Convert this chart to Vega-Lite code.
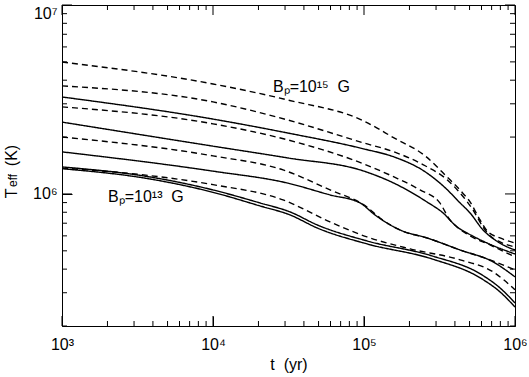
{
  "$schema": "https://vega.github.io/schema/vega-lite/v6.json",
  "width": 453,
  "height": 321,
  "autosize": "none",
  "padding": {"left": 62, "top": 5, "right": 14, "bottom": 51},
  "background": "white",
  "config": {
    "view": {"stroke": "black", "strokeWidth": 1},
    "font": "Liberation Sans",
    "axis": {
      "zindex": 1,
      "labelFont": "Liberation Sans",
      "labelFontSize": 16,
      "labelColor": "black",
      "titleFont": "Liberation Sans",
      "titleFontSize": 16,
      "titleFontWeight": "normal",
      "titleColor": "black",
      "tickColor": "#000000",
      "tickWidth": 1,
      "domain": false,
      "grid": false,
      "labelOverlap": false,
      "labelBound": false,
      "labelFlush": false
    }
  },
  "datasets": {
    "xmajor": [{"v": 1000}, {"v": 10000}, {"v": 100000}, {"v": 1000000}],
    "xminor": [{"v": 2000}, {"v": 3000}, {"v": 4000}, {"v": 5000}, {"v": 6000}, {"v": 7000}, {"v": 8000}, {"v": 9000},
               {"v": 20000}, {"v": 30000}, {"v": 40000}, {"v": 50000}, {"v": 60000}, {"v": 70000}, {"v": 80000}, {"v": 90000},
               {"v": 200000}, {"v": 300000}, {"v": 400000}, {"v": 500000}, {"v": 600000}, {"v": 700000}, {"v": 800000}, {"v": 900000}],
    "ymajor": [{"v": 1000000}, {"v": 10000000}],
    "yminor": [{"v": 200000}, {"v": 300000}, {"v": 400000}, {"v": 500000}, {"v": 600000}, {"v": 700000}, {"v": 800000}, {"v": 900000},
               {"v": 2000000}, {"v": 3000000}, {"v": 4000000}, {"v": 5000000}, {"v": 6000000}, {"v": 7000000}, {"v": 8000000}, {"v": 9000000}],
    "curves": [
      {"curve": "D1", "style": "dashed", "age": 1000, "teff": 4990000},
      {"curve": "D1", "style": "dashed", "age": 10000, "teff": 3820000},
      {"curve": "D1", "style": "dashed", "age": 31400, "teff": 3140000},
      {"curve": "D1", "style": "dashed", "age": 100000, "teff": 2430000},
      {"curve": "D1", "style": "dashed", "age": 158000, "teff": 1980000},
      {"curve": "D1", "style": "dashed", "age": 254000, "teff": 1590000},
      {"curve": "D1", "style": "dashed", "age": 355000, "teff": 1230000},
      {"curve": "D1", "style": "dashed", "age": 446000, "teff": 1020000},
      {"curve": "D1", "style": "dashed", "age": 504000, "teff": 907000},
      {"curve": "D1", "style": "dashed", "age": 587000, "teff": 728000},
      {"curve": "D1", "style": "dashed", "age": 663000, "teff": 630000},
      {"curve": "D1", "style": "dashed", "age": 796000, "teff": 585000},
      {"curve": "D1", "style": "dashed", "age": 1000000, "teff": 550000},

      {"curve": "D2", "style": "dashed", "age": 1000, "teff": 3730000},
      {"curve": "D2", "style": "dashed", "age": 10000, "teff": 3070000},
      {"curve": "D2", "style": "dashed", "age": 31400, "teff": 2460000},
      {"curve": "D2", "style": "dashed", "age": 100000, "teff": 1860000},
      {"curve": "D2", "style": "dashed", "age": 158000, "teff": 1670000},
      {"curve": "D2", "style": "dashed", "age": 254000, "teff": 1410000},
      {"curve": "D2", "style": "dashed", "age": 355000, "teff": 1190000},
      {"curve": "D2", "style": "dashed", "age": 433000, "teff": 1010000},
      {"curve": "D2", "style": "dashed", "age": 527000, "teff": 823000},
      {"curve": "D2", "style": "dashed", "age": 614000, "teff": 669000},
      {"curve": "D2", "style": "dashed", "age": 683000, "teff": 600000},
      {"curve": "D2", "style": "dashed", "age": 796000, "teff": 557000},
      {"curve": "D2", "style": "dashed", "age": 1000000, "teff": 524000},

      {"curve": "S1", "style": "solid", "age": 1000, "teff": 3260000},
      {"curve": "S1", "style": "solid", "age": 10000, "teff": 2490000},
      {"curve": "S1", "style": "solid", "age": 31400, "teff": 2100000},
      {"curve": "S1", "style": "solid", "age": 100000, "teff": 1730000},
      {"curve": "S1", "style": "solid", "age": 158000, "teff": 1570000},
      {"curve": "S1", "style": "solid", "age": 254000, "teff": 1310000},
      {"curve": "S1", "style": "solid", "age": 344000, "teff": 1080000},
      {"curve": "S1", "style": "solid", "age": 433000, "teff": 896000},
      {"curve": "S1", "style": "solid", "age": 504000, "teff": 793000},
      {"curve": "S1", "style": "solid", "age": 614000, "teff": 645000},
      {"curve": "S1", "style": "solid", "age": 737000, "teff": 571000},
      {"curve": "S1", "style": "solid", "age": 859000, "teff": 531000},
      {"curve": "S1", "style": "solid", "age": 1000000, "teff": 505000},

      {"curve": "D3", "style": "dashed", "age": 1000, "teff": 2890000},
      {"curve": "D3", "style": "dashed", "age": 10000, "teff": 2350000},
      {"curve": "D3", "style": "dashed", "age": 31400, "teff": 1930000},
      {"curve": "D3", "style": "dashed", "age": 100000, "teff": 1440000},
      {"curve": "D3", "style": "dashed", "age": 158000, "teff": 1230000},
      {"curve": "D3", "style": "dashed", "age": 235000, "teff": 1050000},
      {"curve": "D3", "style": "dashed", "age": 318000, "teff": 896000},
      {"curve": "D3", "style": "dashed", "age": 371000, "teff": 728000},
      {"curve": "D3", "style": "dashed", "age": 413000, "teff": 669000},
      {"curve": "D3", "style": "dashed", "age": 504000, "teff": 600000},
      {"curve": "D3", "style": "dashed", "age": 683000, "teff": 537000},
      {"curve": "D3", "style": "dashed", "age": 1000000, "teff": 464000},

      {"curve": "S2", "style": "solid", "age": 1000, "teff": 2400000},
      {"curve": "S2", "style": "solid", "age": 10000, "teff": 1790000},
      {"curve": "S2", "style": "solid", "age": 31400, "teff": 1550000},
      {"curve": "S2", "style": "solid", "age": 100000, "teff": 1320000},
      {"curve": "S2", "style": "solid", "age": 158000, "teff": 1140000},
      {"curve": "S2", "style": "solid", "age": 261000, "teff": 907000},
      {"curve": "S2", "style": "solid", "age": 334000, "teff": 793000},
      {"curve": "S2", "style": "solid", "age": 413000, "teff": 669000},
      {"curve": "S2", "style": "solid", "age": 481000, "teff": 622000},
      {"curve": "S2", "style": "solid", "age": 653000, "teff": 550000},
      {"curve": "S2", "style": "solid", "age": 1000000, "teff": 481000},

      {"curve": "D4", "style": "dashed", "age": 1000, "teff": 2000000},
      {"curve": "D4", "style": "dashed", "age": 10000, "teff": 1590000},
      {"curve": "D4", "style": "dashed", "age": 29100, "teff": 1340000},
      {"curve": "D4", "style": "dashed", "age": 59600, "teff": 1050000},
      {"curve": "D4", "style": "dashed", "age": 104700, "teff": 853000},
      {"curve": "D4", "style": "dashed", "age": 127600, "teff": 746000},
      {"curve": "D4", "style": "dashed", "age": 173000, "teff": 645000},
      {"curve": "D4", "style": "dashed", "age": 274000, "teff": 578000},
      {"curve": "D4", "style": "dashed", "age": 433000, "teff": 505000},
      {"curve": "D4", "style": "dashed", "age": 683000, "teff": 448000},
      {"curve": "D4", "style": "dashed", "age": 1000000, "teff": 396000},

      {"curve": "S3", "style": "solid", "age": 1000, "teff": 1670000},
      {"curve": "S3", "style": "solid", "age": 10000, "teff": 1320000},
      {"curve": "S3", "style": "solid", "age": 31400, "teff": 1140000},
      {"curve": "S3", "style": "solid", "age": 59600, "teff": 988000},
      {"curve": "S3", "style": "solid", "age": 94200, "teff": 896000},
      {"curve": "S3", "style": "solid", "age": 118300, "teff": 774000},
      {"curve": "S3", "style": "solid", "age": 148700, "teff": 686000},
      {"curve": "S3", "style": "solid", "age": 173000, "teff": 645000},
      {"curve": "S3", "style": "solid", "age": 261000, "teff": 585000},
      {"curve": "S3", "style": "solid", "age": 433000, "teff": 505000},
      {"curve": "S3", "style": "solid", "age": 715000, "teff": 437000},
      {"curve": "S3", "style": "solid", "age": 1000000, "teff": 364000},

      {"curve": "D5", "style": "dashed", "age": 1000, "teff": 1370000},
      {"curve": "D5", "style": "dashed", "age": 3828, "teff": 1250000},
      {"curve": "D5", "style": "dashed", "age": 10000, "teff": 1120000},
      {"curve": "D5", "style": "dashed", "age": 29100, "teff": 930000},
      {"curve": "D5", "style": "dashed", "age": 59600, "teff": 711000},
      {"curve": "D5", "style": "dashed", "age": 104700, "teff": 592000},
      {"curve": "D5", "style": "dashed", "age": 202000, "teff": 512000},
      {"curve": "D5", "style": "dashed", "age": 433000, "teff": 448000},
      {"curve": "D5", "style": "dashed", "age": 715000, "teff": 387000},
      {"curve": "D5", "style": "dashed", "age": 1000000, "teff": 311000},

      {"curve": "S4a", "style": "solid", "age": 1000, "teff": 1390000},
      {"curve": "S4a", "style": "solid", "age": 3828, "teff": 1230000},
      {"curve": "S4a", "style": "solid", "age": 10000, "teff": 1050000},
      {"curve": "S4a", "style": "solid", "age": 20480, "teff": 896000},
      {"curve": "S4a", "style": "solid", "age": 32400, "teff": 803000},
      {"curve": "S4a", "style": "solid", "age": 48900, "teff": 686000},
      {"curve": "S4a", "style": "solid", "age": 104700, "teff": 564000},
      {"curve": "S4a", "style": "solid", "age": 282000, "teff": 470000},
      {"curve": "S4a", "style": "solid", "age": 604000, "teff": 373000},
      {"curve": "S4a", "style": "solid", "age": 796000, "teff": 318000},
      {"curve": "S4a", "style": "solid", "age": 1000000, "teff": 265000},

      {"curve": "S4b", "style": "solid", "age": 1000, "teff": 1360000},
      {"curve": "S4b", "style": "solid", "age": 3828, "teff": 1200000},
      {"curve": "S4b", "style": "solid", "age": 10000, "teff": 1020000},
      {"curve": "S4b", "style": "solid", "age": 20480, "teff": 864000},
      {"curve": "S4b", "style": "solid", "age": 32400, "teff": 774000},
      {"curve": "S4b", "style": "solid", "age": 48900, "teff": 661000},
      {"curve": "S4b", "style": "solid", "age": 104700, "teff": 544000},
      {"curve": "S4b", "style": "solid", "age": 282000, "teff": 453000},
      {"curve": "S4b", "style": "solid", "age": 604000, "teff": 355000},
      {"curve": "S4b", "style": "solid", "age": 796000, "teff": 303000},
      {"curve": "S4b", "style": "solid", "age": 1000000, "teff": 252000}
    ]
  },
  "resolve": {"axis": {"x": "independent", "y": "independent"}},
  "layer": [
    {
      "data": {"name": "curves"},
      "mark": {"type": "line", "color": "black", "strokeWidth": 1.4, "interpolate": "monotone"},
      "encoding": {
        "x": {
          "field": "age", "type": "quantitative",
          "scale": {"type": "log", "domain": [1000, 1000000], "nice": false},
          "axis": {
            "orient": "bottom",
            "offset": -10,
            "tickSize": 10,
            "title": "t\u00a0\u00a0(yr)",
            "titlePadding": 4,
            "values": [1000, 10000, 100000, 1000000],
            "labelExpr": "datum.value == 1000 ? '10³' : datum.value == 10000 ? '10⁴' : datum.value == 100000 ? '10⁵' : '10⁶'",
            "labelPadding": 10
          }
        },
        "y": {
          "field": "teff", "type": "quantitative",
          "scale": {"type": "log", "domain": [200000, 10000000], "nice": false},
          "axis": {
            "orient": "left",
            "offset": -10,
            "tickSize": 10,
            "title": "T\u00a0\u00a0\u00a0\u00a0\u00a0(K)",
            "titleAngle": -90,
            "titleAlign": "center",
            "titleBaseline": "alphabetic",
            "titleX": -56,
            "titleY": 166,
            "values": [1000000, 10000000],
            "labelExpr": "datum.value == 1000000 ? '10⁶' : '10⁷'",
            "labelBaseline": {"condition": {"test": "datum.value == 10000000", "value": "top"}, "value": "middle"},
            "labelPadding": 5
          }
        },
        "detail": {"field": "curve"},
        "strokeDash": {
          "field": "style", "type": "nominal",
          "scale": {"domain": ["solid", "dashed"], "range": [[1, 0], [6, 4]]},
          "legend": null
        }
      }
    },
    {
      "data": {"name": "xmajor"},
      "mark": {"type": "tick", "orient": "vertical", "color": "#000000", "opacity": 1, "size": 10, "thickness": 1},
      "encoding": {
        "x": {"field": "v", "type": "quantitative", "scale": {"type": "log", "domain": [1000, 1000000], "nice": false}, "axis": null},
        "y": {"datum": 212560, "type": "quantitative", "scale": {"type": "log", "domain": [200000, 10000000], "nice": false}, "axis": null}
      }
    },
    {
      "data": {"name": "xmajor"},
      "mark": {"type": "tick", "orient": "vertical", "color": "#000000", "opacity": 1, "size": 10, "thickness": 1},
      "encoding": {
        "x": {"field": "v", "type": "quantitative", "scale": {"type": "log", "domain": [1000, 1000000], "nice": false}, "axis": null},
        "y": {"datum": 9409000, "type": "quantitative", "scale": {"type": "log", "domain": [200000, 10000000], "nice": false}, "axis": null}
      }
    },
    {
      "data": {"name": "xminor"},
      "mark": {"type": "tick", "orient": "vertical", "color": "#000000", "opacity": 1, "size": 5, "thickness": 1},
      "encoding": {
        "x": {"field": "v", "type": "quantitative", "scale": {"type": "log", "domain": [1000, 1000000], "nice": false}, "axis": null},
        "y": {"datum": 206200, "type": "quantitative", "scale": {"type": "log", "domain": [200000, 10000000], "nice": false}, "axis": null}
      }
    },
    {
      "data": {"name": "xminor"},
      "mark": {"type": "tick", "orient": "vertical", "color": "#000000", "opacity": 1, "size": 5, "thickness": 1},
      "encoding": {
        "x": {"field": "v", "type": "quantitative", "scale": {"type": "log", "domain": [1000, 1000000], "nice": false}, "axis": null},
        "y": {"datum": 9700000, "type": "quantitative", "scale": {"type": "log", "domain": [200000, 10000000], "nice": false}, "axis": null}
      }
    },
    {
      "data": {"name": "ymajor"},
      "mark": {"type": "tick", "orient": "horizontal", "color": "#000000", "opacity": 1, "size": 10, "thickness": 1},
      "encoding": {
        "y": {"field": "v", "type": "quantitative", "scale": {"type": "log", "domain": [200000, 10000000], "nice": false}, "axis": null},
        "x": {"datum": 1079, "type": "quantitative", "scale": {"type": "log", "domain": [1000, 1000000], "nice": false}, "axis": null}
      }
    },
    {
      "data": {"name": "ymajor"},
      "mark": {"type": "tick", "orient": "horizontal", "color": "#000000", "opacity": 1, "size": 10, "thickness": 1},
      "encoding": {
        "y": {"field": "v", "type": "quantitative", "scale": {"type": "log", "domain": [200000, 10000000], "nice": false}, "axis": null},
        "x": {"datum": 926600, "type": "quantitative", "scale": {"type": "log", "domain": [1000, 1000000], "nice": false}, "axis": null}
      }
    },
    {
      "data": {"name": "yminor"},
      "mark": {"type": "tick", "orient": "horizontal", "color": "#000000", "opacity": 1, "size": 5, "thickness": 1},
      "encoding": {
        "y": {"field": "v", "type": "quantitative", "scale": {"type": "log", "domain": [200000, 10000000], "nice": false}, "axis": null},
        "x": {"datum": 1039, "type": "quantitative", "scale": {"type": "log", "domain": [1000, 1000000], "nice": false}, "axis": null}
      }
    },
    {
      "data": {"name": "yminor"},
      "mark": {"type": "tick", "orient": "horizontal", "color": "#000000", "opacity": 1, "size": 5, "thickness": 1},
      "encoding": {
        "y": {"field": "v", "type": "quantitative", "scale": {"type": "log", "domain": [200000, 10000000], "nice": false}, "axis": null},
        "x": {"datum": 962600, "type": "quantitative", "scale": {"type": "log", "domain": [1000, 1000000], "nice": false}, "axis": null}
      }
    },
    {
      "data": {"values": [
        {"age": 24950, "teff": 3465000, "label": "Bₚ=10¹⁵\u00a0\u00a0G"},
        {"age": 2017, "teff": 907000, "label": "Bₚ=10¹³\u00a0\u00a0G"}
      ]},
      "mark": {"type": "text", "align": "left", "baseline": "alphabetic", "fontSize": 16, "font": "Liberation Sans", "color": "black"},
      "encoding": {
        "x": {"field": "age", "type": "quantitative", "scale": {"type": "log", "domain": [1000, 1000000], "nice": false}, "axis": null},
        "y": {"field": "teff", "type": "quantitative", "scale": {"type": "log", "domain": [200000, 10000000], "nice": false}, "axis": null},
        "text": {"field": "label"}
      }
    },
    {
      "data": {"values": [{"age": 503, "teff": 1089000, "label": "eff"}]},
      "mark": {"type": "text", "align": "left", "baseline": "alphabetic", "angle": 270, "fontSize": 12, "font": "Liberation Sans", "color": "black"},
      "encoding": {
        "x": {"field": "age", "type": "quantitative", "scale": {"type": "log", "domain": [1000, 1000000], "nice": false}, "axis": null},
        "y": {"field": "teff", "type": "quantitative", "scale": {"type": "log", "domain": [200000, 10000000], "nice": false}, "axis": null},
        "text": {"field": "label"}
      }
    }
  ]
}
